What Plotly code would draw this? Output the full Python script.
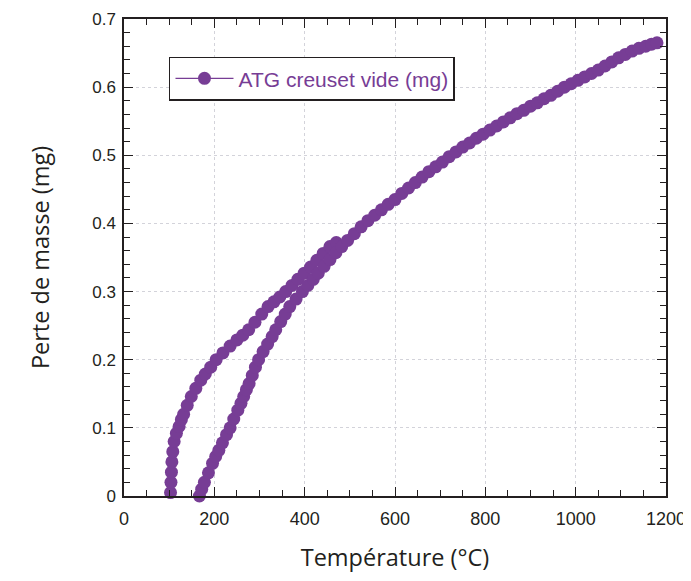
import plotly.graph_objects as go

# Upper branch
up_T = [103, 104, 105, 106, 108, 111, 116, 122, 127, 132, 140, 149, 159, 170, 180, 192,
        204, 219, 235, 250, 263, 276, 290, 305, 319, 332, 345, 358, 372, 385, 399, 413,
        427, 441, 456, 470]
up_m = [0.005, 0.020, 0.035, 0.050, 0.065, 0.080, 0.092, 0.102, 0.112, 0.120, 0.133, 0.146,
        0.158, 0.170, 0.179, 0.189, 0.200, 0.210, 0.220, 0.229, 0.236, 0.244, 0.255, 0.267,
        0.278, 0.285, 0.292, 0.300, 0.309, 0.318, 0.327, 0.336, 0.346, 0.356, 0.366, 0.372]

# Lower branch + common part
lo_T = [167, 172, 178, 187, 196, 203, 210, 218, 227, 235, 243, 252, 259, 265, 271, 277,
        284, 291, 298, 308, 318, 328, 336, 347, 357, 367, 381, 395, 407, 419, 430, 443,
        456, 469, 482, 495, 510, 525, 540, 555, 570, 585, 600, 615, 630, 645, 660, 675,
        690, 705, 720, 735, 750, 765, 780, 795, 810, 825, 840, 855, 870, 885, 900, 915,
        930, 945, 960, 975, 990, 1005, 1020, 1035, 1050, 1065, 1080, 1095, 1110, 1125,
        1140, 1155, 1168, 1180]
lo_m = [0.000, 0.010, 0.020, 0.034, 0.048, 0.058, 0.067, 0.078, 0.090, 0.100, 0.113, 0.126,
        0.136, 0.146, 0.156, 0.165, 0.177, 0.189, 0.200, 0.212, 0.223, 0.234, 0.244, 0.256,
        0.267, 0.278, 0.289, 0.300, 0.309, 0.318, 0.327, 0.337, 0.347, 0.357, 0.366, 0.375,
        0.385, 0.395, 0.404, 0.412, 0.420, 0.428, 0.435, 0.444, 0.452, 0.460, 0.468, 0.476,
        0.483, 0.490, 0.498, 0.505, 0.512, 0.518, 0.525, 0.531, 0.537, 0.543, 0.549, 0.555,
        0.561, 0.566, 0.572, 0.577, 0.583, 0.588, 0.594, 0.600, 0.605, 0.610, 0.615, 0.620,
        0.625, 0.631, 0.637, 0.643, 0.648, 0.653, 0.657, 0.660, 0.663, 0.665]

series_name = "ATG creuset vide (mg)"
x_title = "Température (°C)"
y_title = "Perte de masse (mg)"

purple = "#773D95"
ink = "#231F20"

xs = up_T + [None] + lo_T
ys = up_m + [None] + lo_m

fig = go.Figure()
fig.add_trace(go.Scatter(
    x=xs, y=ys, mode="lines+markers", name=series_name,
    line=dict(color=purple, width=1.2),
    marker=dict(color=purple, size=13, symbol="circle"),
    cliponaxis=False, connectgaps=False,
))

axis_common = dict(
    showline=True, linecolor=ink, linewidth=1.5, mirror="allticks",
    ticks="inside", ticklen=9, tickwidth=1.3, tickcolor=ink,
    showgrid=True, gridcolor="#D3D3DA", griddash="3px,3px", gridwidth=1,
    zeroline=False,
)

# The page body has an 8px default margin, so the figure is sized to fit the window.
fig.update_layout(
    width=683, height=573,
    margin=dict(l=116, r=25, t=11, b=85, autoexpand=False),
    paper_bgcolor="white", plot_bgcolor="white",
    font=dict(family="Liberation Sans, Arial, sans-serif", color=ink),
    showlegend=True,
    legend=dict(
        x=0.083, y=0.921, xanchor="left", yanchor="top",
        bgcolor="white", bordercolor=ink, borderwidth=1.5,
        font=dict(size=21, color=purple, family="Liberation Sans, Arial, sans-serif"),
        itemwidth=58,
    ),
    xaxis=dict(
        range=[0, 1200], dtick=200, tick0=0,
        minor=dict(dtick=50, ticks="inside", ticklen=6, tickwidth=1.2, tickcolor=ink, showgrid=False),
        tickfont=dict(size=18, family="Liberation Sans, Arial, sans-serif", color=ink),
        ticklabelstandoff=6,
        title=dict(text=x_title, font=dict(size=23.5, family="Open Sans, sans-serif", color=ink), standoff=21),
        automargin=False,
        **axis_common,
    ),
    yaxis=dict(
        range=[0, 0.7], dtick=0.1, tick0=0,
        minor=dict(dtick=0.02, ticks="inside", ticklen=6, tickwidth=1.2, tickcolor=ink, showgrid=False),
        tickfont=dict(size=17, family="Liberation Sans, Arial, sans-serif", color=ink),
        ticklabelstandoff=3,
        title=dict(text=y_title, font=dict(size=23.5, family="Open Sans, sans-serif", color=ink), standoff=36),
        automargin=False,
        **axis_common,
    ),
)

fig.write_html("out.html")
